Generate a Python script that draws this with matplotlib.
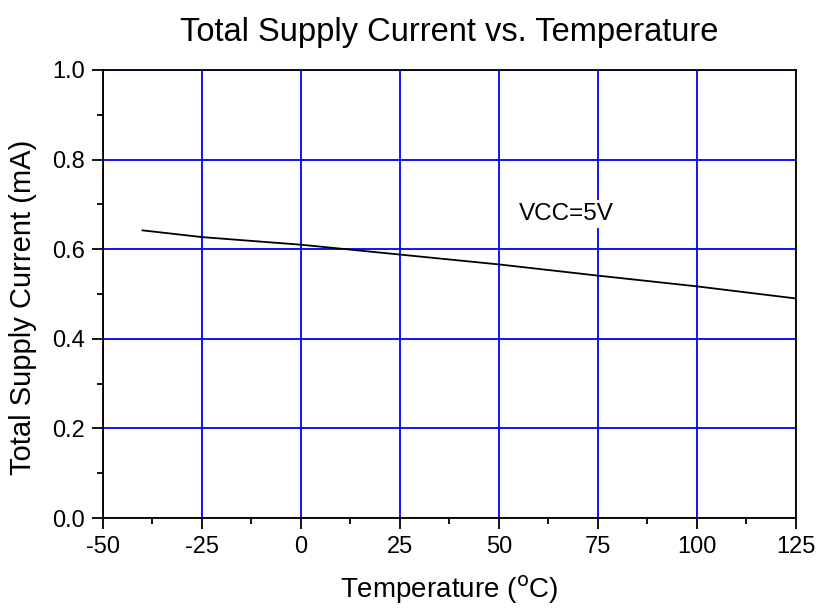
import matplotlib
matplotlib.use('Agg')
import matplotlib.pyplot as plt
from matplotlib.ticker import MultipleLocator

plt.rcParams['font.family'] = ['Liberation Sans', 'DejaVu Sans']
plt.rcParams['axes.unicode_minus'] = False

temps = [-40, -25, 0, 25, 50, 75, 100, 125]
current = [0.642, 0.627, 0.610, 0.588, 0.566, 0.541, 0.517, 0.490]


def plot():
    """draw the chart"""
    fig = plt.figure(figsize=(8.18, 6.08), dpi=100)
    ax = fig.add_axes([0.1259, 0.148, 0.8472, 0.7369])

    ax.plot(temps, current, color='black', lw=1.3, zorder=3)

    ax.set_xlim(-50, 125)
    ax.set_ylim(0, 1.0)
    ax.xaxis.set_major_locator(MultipleLocator(25))
    ax.xaxis.set_minor_locator(MultipleLocator(12.5))
    ax.yaxis.set_major_locator(MultipleLocator(0.2))
    ax.yaxis.set_minor_locator(MultipleLocator(0.1))
    ax.yaxis.set_major_formatter(lambda v, p: f'{v:.1f}')

    ax.grid(True, which='major', color='#0000ff', lw=1.3, zorder=1)
    ax.set_axisbelow(True)
    ax.tick_params(which='major', direction='out', length=8, width=1.3,
                   labelsize=17, pad=5)
    ax.tick_params(which='minor', direction='out', length=4, width=1.3)
    for s in ax.spines.values():
        s.set_linewidth(1.3)

    ax.text(55, 0.665, 'VCC=5V', fontsize=17.5, va='baseline',
            bbox=dict(facecolor='white', edgecolor='none', pad=2), zorder=4)

    ax.set_xlabel('Temperature ($^{\\mathrm{o}}$C)', fontsize=20, labelpad=11)
    ax.set_ylabel('Total Supply Current (mA)', fontsize=21)
    ax.yaxis.set_label_coords(-0.095, 0.47)
    ax.set_title('Total Supply Current vs. Temperature', fontsize=23.5, pad=21)

    fig.savefig('out.png', dpi=100)


if __name__ == "__main__":
    plot()
